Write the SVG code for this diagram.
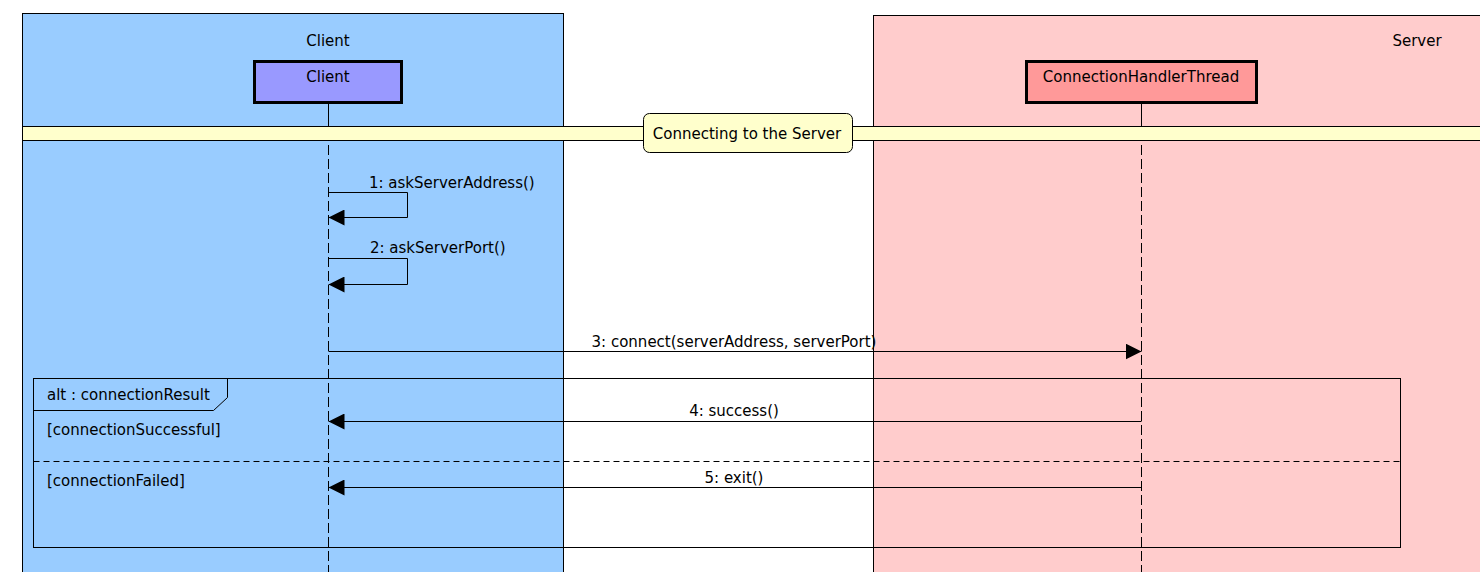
<svg xmlns="http://www.w3.org/2000/svg" width="1480" height="572" viewBox="0 0 1480 572">
<defs>
<style>
text{font-family:"DejaVu Sans","Liberation Sans",sans-serif;font-size:15px;fill:#000}
.mid{text-anchor:middle}
.life{stroke:#000;stroke-width:1;stroke-dasharray:10,4;fill:none}
.msg{stroke:#000;stroke-width:1;fill:none}
.box{stroke:#000;stroke-width:3}
</style>
<marker id="ah" viewBox="0 0 16 16" refX="16" refY="8" markerWidth="16" markerHeight="16" markerUnits="userSpaceOnUse" orient="auto">
<path d="M0,0 L16,8 L0,16 Z" fill="#000"/>
</marker>
</defs>
<rect width="1480" height="572" fill="#fff"/>
<g id="partition-client">
<rect x="22.5" y="13.5" width="541" height="570" fill="#99ccff" stroke="#000" stroke-width="1"/>
<text class="mid" x="328" y="46">Client</text>
</g>
<g id="partition-server">
<rect x="873.5" y="15.5" width="620" height="570" fill="#ffcccc" stroke="#000" stroke-width="1"/>
<text class="mid" x="1417" y="46">Server</text>
</g>
<g id="lifeline-client">
<line x1="328.5" y1="102" x2="328.5" y2="117" stroke="#000"/>
<line class="life" x1="328.5" y1="117" x2="328.5" y2="572"/>
<rect class="box" x="254.5" y="61.5" width="147" height="41" fill="#9999ff"/>
<text class="mid" x="328" y="82">Client</text>
</g>
<g id="lifeline-server">
<line x1="1141.5" y1="102" x2="1141.5" y2="117" stroke="#000"/>
<line class="life" x1="1141.5" y1="117" x2="1141.5" y2="572"/>
<rect class="box" x="1026.5" y="61.5" width="230" height="41" fill="#ff9999"/>
<text class="mid" x="1141" y="82">ConnectionHandlerThread</text>
</g>
<g id="divider">
<rect x="22.5" y="126.5" width="1470" height="14" fill="#ffffcc" stroke="#000" stroke-width="1"/>
<rect x="643.5" y="113.5" width="209" height="39" rx="6" ry="6" fill="#ffffcc" stroke="#000" stroke-width="1"/>
<text class="mid" x="747" y="139">Connecting to the Server</text>
</g>
<g id="alt-frame">
<rect x="33.5" y="378.5" width="1367" height="169" fill="none" stroke="#000" stroke-width="1"/>
<path d="M33.5,410.5 L213.5,410.5 L227.5,397.5 L227.5,378.5" fill="none" stroke="#000" stroke-width="1"/>
<text x="47" y="400">alt : connectionResult</text>
<text x="47" y="435">[connectionSuccessful]</text>
<line x1="33.5" y1="461.5" x2="1400.5" y2="461.5" stroke="#000" stroke-width="1" stroke-dasharray="6,4"/>
<text x="47" y="486">[connectionFailed]</text>
</g>
<g id="connectors">
<path class="msg" d="M328.5,192.5 L407.5,192.5 L407.5,217.5 L328.5,217.5" marker-end="url(#ah)"/>
<text x="369" y="188">1: askServerAddress()</text>
<path class="msg" d="M328.5,258.5 L407.5,258.5 L407.5,284.5 L328.5,284.5" marker-end="url(#ah)"/>
<text x="370" y="253">2: askServerPort()</text>
<line class="msg" x1="328.5" y1="351.5" x2="1141.5" y2="351.5" marker-end="url(#ah)"/>
<text class="mid" x="734" y="347">3: connect(serverAddress, serverPort)</text>
<line class="msg" x1="1141.5" y1="421.5" x2="328.5" y2="421.5" marker-end="url(#ah)"/>
<text class="mid" x="734" y="416">4: success()</text>
<line class="msg" x1="1141.5" y1="487.5" x2="328.5" y2="487.5" marker-end="url(#ah)"/>
<text class="mid" x="734" y="483">5: exit()</text>
</g>
</svg>
